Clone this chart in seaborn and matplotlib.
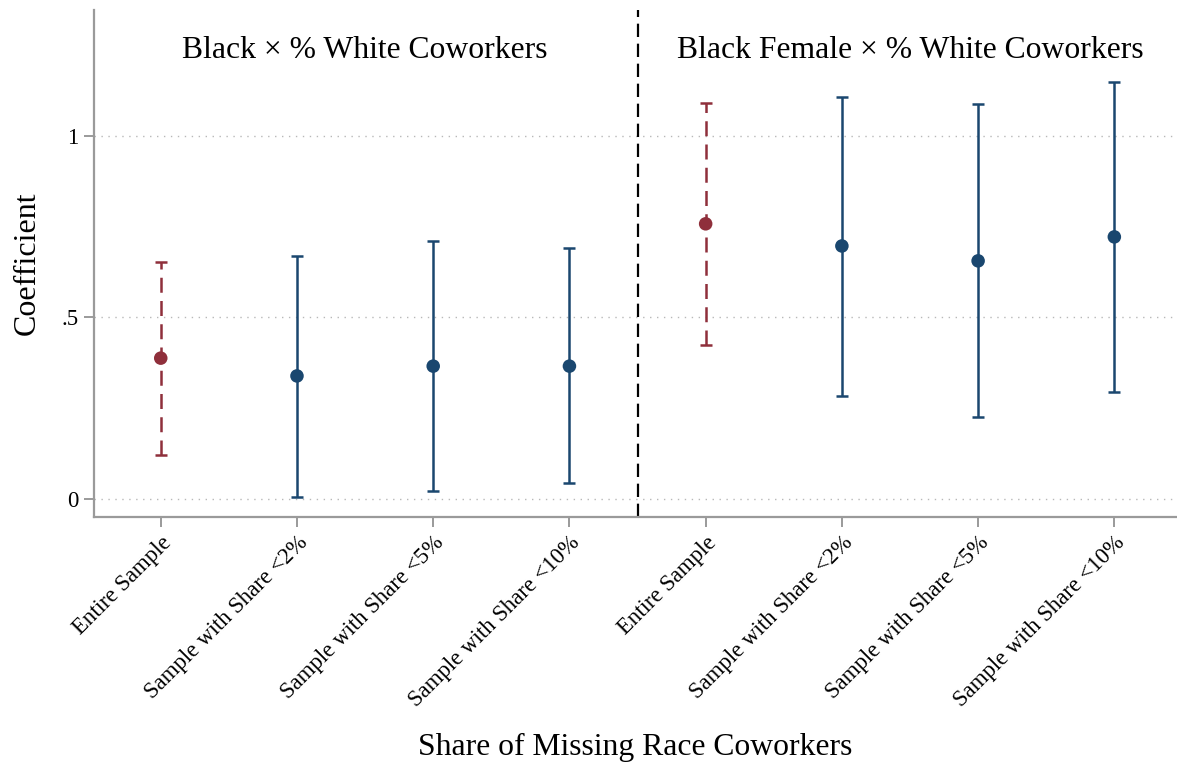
import matplotlib
matplotlib.use("Agg")
import matplotlib.pyplot as plt
import seaborn as sns
import pandas as pd

# Estimates and 95% confidence bounds
samples = ["Entire Sample", "Sample with Share <2%", "Sample with Share <5%", "Sample with Share <10%",
           "Entire Sample", "Sample with Share <2%", "Sample with Share <5%", "Sample with Share <10%"]
panels = ["Black × % White Coworkers"] * 4 + ["Black Female × % White Coworkers"] * 4
coef = [0.388, 0.339, 0.366, 0.366, 0.758, 0.697, 0.656, 0.722]
ci_low = [0.121, 0.006, 0.022, 0.044, 0.424, 0.284, 0.226, 0.295]
ci_high = [0.653, 0.669, 0.711, 0.691, 1.091, 1.107, 1.088, 1.149]
is_full = [True, False, False, False, True, False, False, False]

df = pd.DataFrame({
    "pos": range(1, len(coef) + 1),
    "sample": samples,
    "panel": panels,
    "coef": coef,
    "lo": ci_low,
    "hi": ci_high,
    "kind": ["Entire" if f else "Restricted" for f in is_full],
})

RED = "#8f2f3b"
NAVY = "#1a476f"
GRAY = "#9a9a9a"

sns.set_theme(style="white")
plt.rcParams["font.family"] = ["Liberation Serif", "DejaVu Serif"]
plt.rcParams["text.color"] = "black"
plt.rcParams["axes.labelcolor"] = "black"
plt.rcParams["xtick.color"] = "black"
plt.rcParams["ytick.color"] = "black"

fig = plt.figure(figsize=(11.77, 7.71), dpi=100)
ax = fig.add_axes([94 / 1177, 1 - 517 / 771, 1 - 94 / 1177, (517 - 10) / 771])

# dotted reference grid
for yv in [0, 0.5, 1]:
    ax.axhline(yv, color="#b8b8b8", lw=1.0, ls=(0, (1, 4)), zorder=0)

# confidence intervals
for kind, color, style in [("Entire", RED, (0, (6, 3.3))), ("Restricted", NAVY, "-")]:
    sub = df[df["kind"] == kind]
    eb = ax.errorbar(sub["pos"], sub["coef"],
                     yerr=[sub["coef"] - sub["lo"], sub["hi"] - sub["coef"]],
                     fmt="none", ecolor=color, elinewidth=1.8, capsize=4.5, capthick=1.8, zorder=2)
    for lc in eb[2]:
        lc.set_linestyle(style)

# point estimates
sns.scatterplot(data=df, x="pos", y="coef", hue="kind", palette={"Entire": RED, "Restricted": NAVY},
                s=95, edgecolor="none", legend=False, ax=ax, zorder=3)

# divider between the two panels
ax.axvline(4.5, color="black", lw=1.6, ls=(0, (6, 3)), zorder=1)

# panel headings
for name, xc in [("Black × % White Coworkers", 2.5), ("Black Female × % White Coworkers", 6.5)]:
    ax.text(xc, 1.236, name, ha="center", va="center", fontsize=22.8, color="black")

ax.set_xlim(0.51, 8.46)
ax.set_ylim(-0.0496, 1.347)
ax.set_xticks(df["pos"])
ax.set_xticklabels(df["sample"], rotation=45, ha="right", rotation_mode="anchor", fontsize=16.4)
ax.set_yticks([0, 0.5, 1])
ax.set_yticklabels(["0", ".5", "1"], fontsize=16.4)

for s in ["top", "right"]:
    ax.spines[s].set_visible(False)
for s in ["left", "bottom"]:
    ax.spines[s].set_color(GRAY)
    ax.spines[s].set_linewidth(1.6)
ax.tick_params(axis="both", which="both", direction="out", length=7, width=1.4, color=GRAY,
               left=True, bottom=True, pad=4, labelcolor="black")

ax.set_xlabel("Share of Missing Race Coworkers", fontsize=22.8, labelpad=16)
ax.set_ylabel("Coefficient", fontsize=23, labelpad=14)

fig.savefig("out.png", dpi=100)
